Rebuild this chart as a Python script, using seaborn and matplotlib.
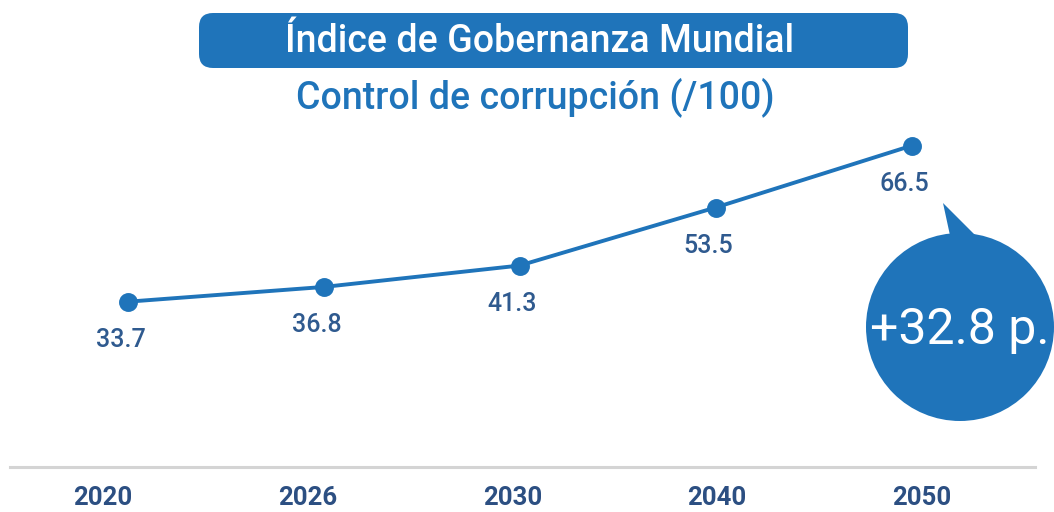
import matplotlib.pyplot as plt
import seaborn as sns
import pandas as pd
from matplotlib.patches import FancyBboxPatch, Circle, Polygon

years = ["2020", "2026", "2030", "2040", "2050"]
values = [33.7, 36.8, 41.3, 53.5, 66.5]
title = "Índice de Gobernanza Mundial"
subtitle = "Control de corrupción (/100)"
badge = "+32.8 p."

blue = "#1f74ba"
label_blue = "#2f5a8f"
year_blue = "#2c4f82"

sns.set_theme(style="white")
plt.rcParams["font.family"] = ["Roboto", "DejaVu Sans"]

df = pd.DataFrame({"year": years, "value": values})

fig = plt.figure(figsize=(10.54, 5.12), dpi=100)
ax = fig.add_axes([10 / 1054, 1 - 467 / 512, 1025 / 1054, 337 / 512])

sns.pointplot(data=df, x="year", y="value", color=blue, markers="o",
              markersize=11.5, linewidth=2.8, errorbar=None, ax=ax)

ax.set_xlim(-0.6, 4.63)
ax.set_ylim(-1.05, 69.8)
ax.set_xlabel("")
ax.set_ylabel("")
ax.set_yticks([])
ax.set_xticks([])
for side in ["top", "right", "left"]:
    ax.spines[side].set_visible(False)
ax.spines["bottom"].set_color("#d4d4d4")
ax.spines["bottom"].set_linewidth(2.2)

# year labels sit on their own, slightly wider, category axis
yax = ax.twiny()
yax.set_xlim(-0.454, 4.552)
yax.set_xticks(range(len(years)))
yax.set_xticklabels(years)
yax.xaxis.set_ticks_position("bottom")
yax.xaxis.set_label_position("bottom")
yax.tick_params(axis="x", length=0, pad=14)
for side in ["top", "right", "left", "bottom"]:
    yax.spines[side].set_visible(False)
for lab in yax.get_xticklabels():
    lab.set_fontsize(18.5)
    lab.set_fontweight("bold")
    lab.set_color(year_blue)

for i, v in enumerate(values):
    ax.annotate(f"{v}", (i, v), xytext=(-7, -38), textcoords="offset pixels",
                ha="center", va="center", fontsize=18, fontweight="medium",
                color=label_blue)

# overlay in pixel coordinates for the title box and the badge
ov = fig.add_axes([0, 0, 1, 1])
ov.set_xlim(0, 1054)
ov.set_ylim(512, 0)
ov.axis("off")
ov.patch.set_alpha(0)

ov.add_patch(FancyBboxPatch((203, 17), 701, 47, boxstyle="round,pad=4,rounding_size=14",
                            facecolor=blue, edgecolor="none"))
ov.text(540, 42, title, ha="center", va="center", color="white",
        fontsize=27, fontweight="medium")
ov.text(535, 97, subtitle, ha="center", va="center", color=blue,
        fontsize=27, fontweight="medium")

ov.add_patch(Polygon([(943, 203), (951, 240), (980, 240)], closed=True,
                     facecolor=blue, edgecolor="none"))
ov.add_patch(Circle((960, 327), 94, facecolor=blue, edgecolor="none"))
ov.text(960, 330, badge, ha="center", va="center", color="white", fontsize=36)

fig.savefig("out.png", dpi=100)
plt.close(fig)
